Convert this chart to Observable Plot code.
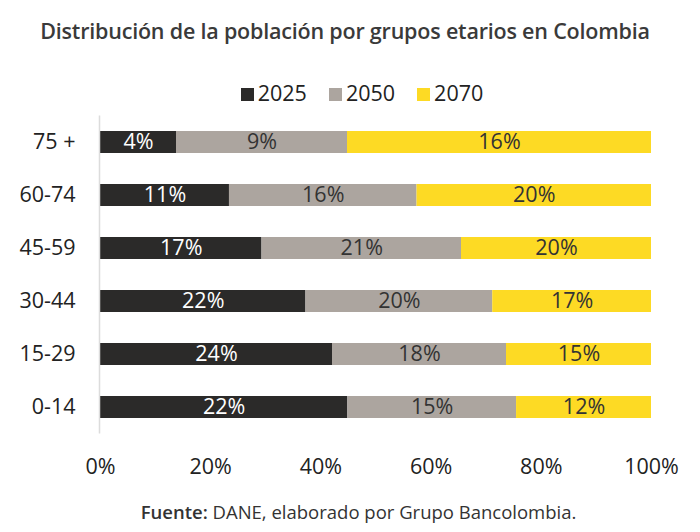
<!DOCTYPE html>
<html>
<head>
<meta charset="utf-8">
<script src="https://cdn.jsdelivr.net/npm/d3@7"></script>
<script src="https://cdn.jsdelivr.net/npm/@observablehq/plot@0.6"></script>
<style>
  body { margin: 0; background: #fff; font-family: "Open Sans", sans-serif; color: #333; }
  #wrap { width: 700px; height: 532px; position: relative; overflow: hidden; }
  #title { position: absolute; top: 16px; left: 0; width: 690px; text-align: center; font-size: 21.5px; font-weight: 600; color: #3a3a3a; letter-spacing: -0.2px; }
  #legend { position: absolute; top: 78px; left: 0; width: 724px; text-align: center; font-size: 21.5px; color: #222; }
  #legend span.item { display: inline-block; margin: 0 11px; }
  #legend span.sw { display: inline-block; width: 13px; height: 13px; margin-right: 4px; vertical-align: 0px; }
  #chart { position: absolute; top: 110px; left: 0; }
  #caption { position: absolute; top: 499px; left: 0; width: 717px; text-align: center; font-size: 18.5px; color: #333; }
  #caption b { font-weight: 600; }
</style>
</head>
<body>
<div id="wrap">
  <div id="title">Distribución de la población por grupos etarios en Colombia</div>
  <div id="legend"></div>
  <div id="chart"></div>
  <div id="caption"><b>Fuente:</b> DANE, elaborado por Grupo Bancolombia.</div>
</div>
<script>
const groups = ["75 +", "60-74", "45-59", "30-44", "15-29", "0-14"];
const years = ["2025", "2050", "2070"];
const v2025 = [4, 11, 17, 22, 24, 22];
const v2050 = [9, 16, 21, 20, 18, 15];
const v2070 = [16, 20, 20, 17, 15, 12];
const xTicks = [0, 0.2, 0.4, 0.6, 0.8, 1];
const colors = ["#2b2a29", "#aca59f", "#fdda24"];
const textColors = ["#ffffff", "#333333", "#333333"];

const series = [v2025, v2050, v2070];
const data = [];
groups.forEach((g, i) => {
  years.forEach((y, j) => {
    data.push({group: g, year: y, value: series[j][i]});
  });
});

// legend
const leg = document.getElementById("legend");
years.forEach((y, j) => {
  const it = document.createElement("span");
  it.className = "item";
  it.innerHTML = `<span class="sw" style="background:${colors[j]}"></span>${y}`;
  leg.appendChild(it);
});

const stackOpts = {x: "value", y: "group", z: "year", offset: "normalize", order: years};

const chart = Plot.plot({
  width: 700,
  height: 380,
  marginTop: 5.5,
  marginBottom: 56.5,
  marginLeft: 100,
  marginRight: 49,
  style: {fontFamily: "Open Sans, sans-serif", fontSize: "21px", color: "#222", background: "white"},
  x: {domain: [0, 1]},
  y: {domain: groups, paddingInner: 0.58, paddingOuter: 0.29},
  color: {domain: years, range: colors},
  marks: [
    Plot.barX(data, Plot.stackX({...stackOpts, fill: "year"})),
    Plot.text(data, Plot.stackX({
      ...stackOpts,
      text: d => d.value + "%",
      fill: d => textColors[years.indexOf(d.year)],
      fontSize: 21.5
    })),
    Plot.ruleX([0], {stroke: "#dcdcdc", strokeWidth: 1.5, dx: -1}),
    Plot.axisX({ticks: xTicks, tickFormat: d => Math.round(d * 100) + "%", tickSize: 0, tickPadding: 25, label: null, fontSize: 21.5, fill: "#222"}),
    Plot.axisY({tickSize: 0, tickPadding: 25, label: null, fontSize: 21.5, fill: "#222"})
  ]
});
document.getElementById("chart").appendChild(chart);
</script>
</body>
</html>
